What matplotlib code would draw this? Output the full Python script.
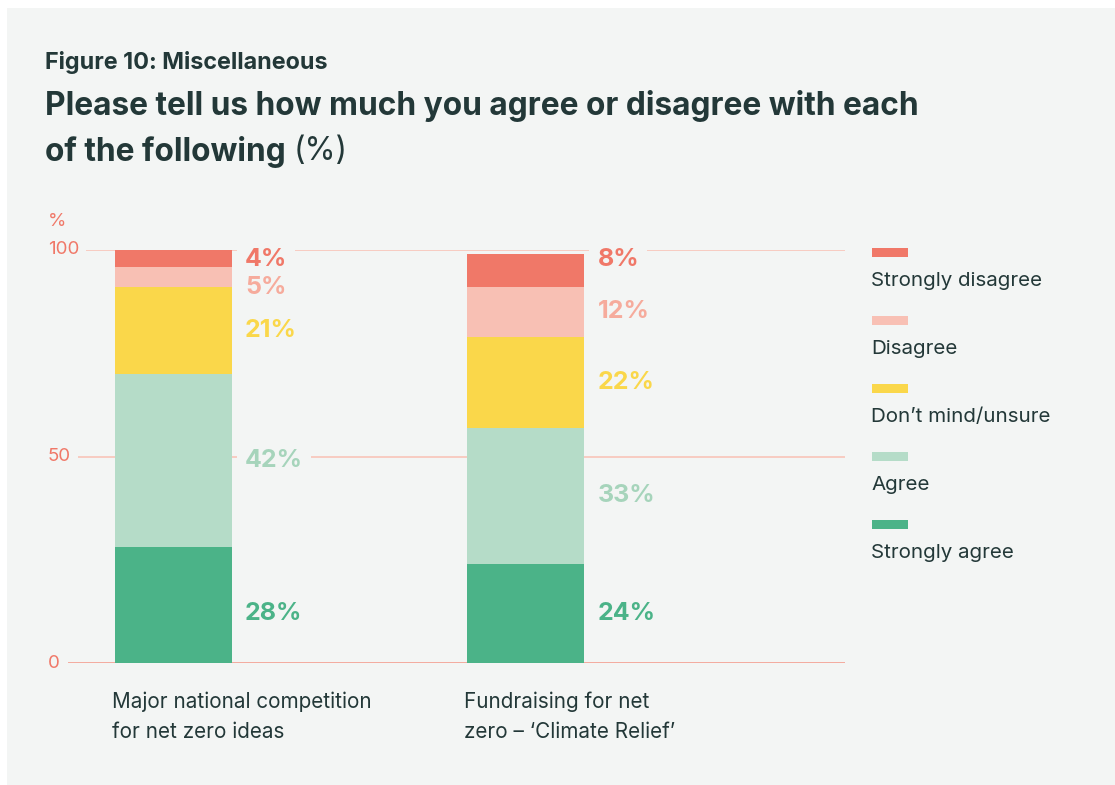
import numpy as np
import matplotlib.pyplot as plt
from matplotlib.patches import Rectangle
import matplotlib.transforms as mtransforms

plt.rcParams['font.family'] = ['Inter', 'DejaVu Sans']

# Survey answers, % of respondents
categories = ["Major national competition\nfor net zero ideas",
              "Fundraising for net\nzero \u2013 \u2018Climate Relief\u2019"]
responses = ["Strongly agree", "Agree", "Don\u2019t mind/unsure",
             "Disagree", "Strongly disagree"]
strongly_agree = [28, 24]
agree = [42, 33]
unsure = [21, 22]
disagree = [5, 12]
strongly_disagree = [4, 8]
yticks = [0, 50, 100]

series = [strongly_agree, agree, unsure, disagree, strongly_disagree]
bar_colors = ["#4bb388", "#b5dcc8", "#fad74a", "#f8c0b4", "#f07868"]
label_colors = ["#4bb388", "#a6d4bb", "#fad74a", "#f6ab9c", "#f07868"]

BG = "#f3f5f4"
TXT = "#233838"
SALMON = "#f07868"
W, H = 1115, 785

fig = plt.figure(figsize=(W / 100, H / 100), dpi=100, facecolor="white")
fig.patches.append(Rectangle((7 / W, 0), 1, 1 - 8 / H, transform=fig.transFigure,
                             facecolor=BG, edgecolor="none", zorder=-10))

def fx(px):
    return px / W

def fy(py):
    return 1 - py / H

# axes: y=0 at 663px, y=100 at 250px, gridlines from 68px to 845px
ax = fig.add_axes([fx(68), fy(663), fx(845) - fx(68), fy(250) - fy(663)])
ax.set_facecolor("none")
ax.set_xlim(-0.299, 1.905)
ax.set_ylim(0, 100)
for s in ax.spines.values():
    s.set_visible(False)
ax.set_xticks([])
ax.set_yticks([])

ax.axhline(0, color="#f4a598", lw=1.3, zorder=1)
for t in yticks[1:]:
    ax.axhline(t, color="#f8c8bd", lw=1.3, zorder=1)

x = np.arange(len(categories))
width = 0.332
bottom = np.zeros(len(categories))
centers = []
for vals, col in zip(series, bar_colors):
    vals = np.array(vals, dtype=float)
    ax.bar(x, vals, width, bottom=bottom, color=col, zorder=3)
    centers.append(bottom + vals / 2)
    bottom = bottom + vals

# value labels: centred on segment, top one pinned near 100, bottom ones level,
# neighbours kept apart
lab_tr = mtransforms.offset_copy(ax.transData, fig=fig, x=13, y=0, units="dots")
base_y = min(centers[0])
for i in range(len(categories)):
    prev = None
    for k in range(len(series) - 1, -1, -1):
        if k == len(series) - 1:
            ypos = 97.8
        elif k == 0:
            ypos = base_y
        else:
            ypos = centers[k][i]
        if prev is not None and prev - ypos < 7:
            ypos = prev - 7
        prev = ypos
        ax.text(x[i] + width / 2, ypos, f"{series[k][i]}%", transform=lab_tr,
                ha="left", va="center", fontsize=18, fontweight="bold",
                color=label_colors[k], zorder=4,
                bbox=dict(facecolor=BG, edgecolor="none", pad=6))

# y tick labels sit over the gridlines
ytr = mtransforms.blended_transform_factory(fig.transFigure, ax.transData)
for t in yticks:
    ax.text(fx(48), t, str(t), transform=ytr, ha="left", va="center",
            fontsize=13.5, color=SALMON, zorder=4,
            bbox=dict(facecolor=BG, edgecolor="none", pad=5))
fig.text(fx(48), fy(221), "%", ha="left", va="center", fontsize=13.5, color=SALMON)

# category labels under each bar
cat_tr = mtransforms.offset_copy(ax.transData, fig=fig, x=-3, y=0, units="dots")
for i, c in enumerate(categories):
    ax.text(x[i] - width / 2, -6.9, c, transform=cat_tr, ha="left", va="top",
            fontsize=14.9, color=TXT, linespacing=1.65)

# legend
for j, (name, col) in enumerate(zip(responses[::-1], bar_colors[::-1])):
    yc = 252.5 + 68 * j
    fig.patches.append(Rectangle((fx(872), fy(yc + 4.5)), fx(908) - fx(872), 9 / H,
                                 transform=fig.transFigure, facecolor=col,
                                 edgecolor="none"))
    fig.text(fx(871), fy(yc + 28), name, ha="left", va="center",
             fontsize=14.8, color=TXT)

fig.text(fx(45), fy(63), "Figure 10: Miscellaneous", ha="left", va="center",
         fontsize=16.8, fontweight="bold", color=TXT)
fig.text(fx(45), fy(106), "Please tell us how much you agree or disagree with each",
         ha="left", va="center", fontsize=22.8, fontweight="bold", color=TXT)
t1 = fig.text(fx(45), fy(152), "of the following", ha="left", va="center",
              fontsize=22.8, fontweight="bold", color=TXT)
fig.canvas.draw()
bb = t1.get_window_extent()
fig.text((bb.x1 + 8) / W, fy(152), "(%)", ha="left", va="center",
         fontsize=22.8, color=TXT)

fig.savefig("out.png", dpi=100, facecolor="white")
